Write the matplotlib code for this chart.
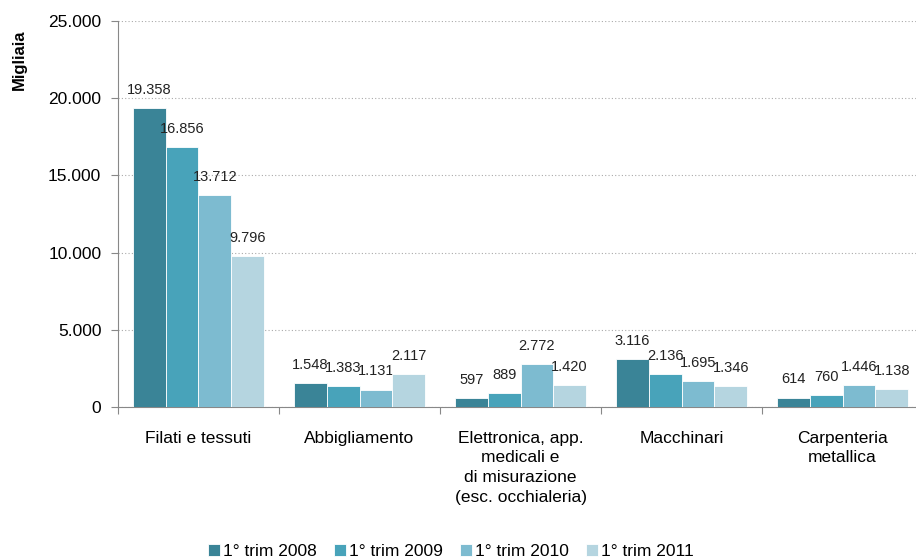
import numpy as np
import matplotlib
matplotlib.use("Agg")
from matplotlib import pyplot as plt

plt.rcParams['font.family'] = ['Liberation Sans', 'DejaVu Sans']

categories = ['Filati e tessuti', 'Abbigliamento',
              'Elettronica, app.\nmedicali e\ndi misurazione\n(esc. occhialeria)',
              'Macchinari', 'Carpenteria\nmetallica']
series_names = ['1° trim 2008', '1° trim 2009', '1° trim 2010', '1° trim 2011']
v2008 = [19358, 1548, 597, 3116, 614]
v2009 = [16856, 1383, 889, 2136, 760]
v2010 = [13712, 1131, 2772, 1695, 1446]
v2011 = [9796, 2117, 1420, 1346, 1138]
colors = ['#3A8497', '#48A3BA', '#7DBBD0', '#B5D5E0']


def fmt(v):
    return f"{v:,}".replace(',', '.')


fig = plt.figure(figsize=(9.16, 5.59), dpi=100)
ax = fig.add_axes([0.1288, 0.2719, 0.879, 0.6905])

x = np.arange(len(categories))
w = 0.203
all_series = [v2008, v2009, v2010, v2011]
for i, vals in enumerate(all_series):
    pos = x + (i - 1.5) * w
    ax.bar(pos, vals, width=w, color=colors[i], edgecolor='white',
           linewidth=0.6, label=series_names[i], zorder=3)
    for p, v in zip(pos, vals):
        ax.annotate(fmt(v), (p, v), xytext=(0, 8), textcoords='offset points',
                    ha='center', va='bottom', fontsize=10.5, color='#222222')

ax.set_xlim(-0.5, len(categories) - 0.5)
ax.set_ylim(0, 25000)
ax.set_yticks(np.arange(0, 25001, 5000))
ax.set_yticklabels([fmt(v) for v in range(0, 25001, 5000)], fontsize=12.5)
ax.yaxis.grid(True, linestyle=(0, (1, 2)), color='#aaaaaa', linewidth=0.8, zorder=0)

ax.set_xticks(np.arange(-0.5, len(categories), 1.0))
ax.set_xticklabels([])
ax.set_xticks(x, minor=True)
ax.set_xticklabels(categories, minor=True, fontsize=12.5, linespacing=1.4,
                   va='top')
ax.tick_params(axis='x', which='minor', length=0, pad=17)
ax.tick_params(axis='x', which='major', length=5, color='#888888', direction='out')
ax.tick_params(axis='y', length=5, color='#888888', direction='out', pad=7)

for s in ['top', 'right']:
    ax.spines[s].set_visible(False)
for s in ['left', 'bottom']:
    ax.spines[s].set_color('#888888')

ax.set_ylabel('Migliaia', fontsize=12, fontweight='bold')
ax.yaxis.set_label_coords(-0.113, 0.9)

fig.legend(loc='lower center', bbox_to_anchor=(0.492, -0.028), ncol=4,
           frameon=False, fontsize=12.5, handlelength=0.7, handleheight=0.7,
           handletextpad=0.15, columnspacing=1.0)

fig.savefig('out.png', dpi=100)
